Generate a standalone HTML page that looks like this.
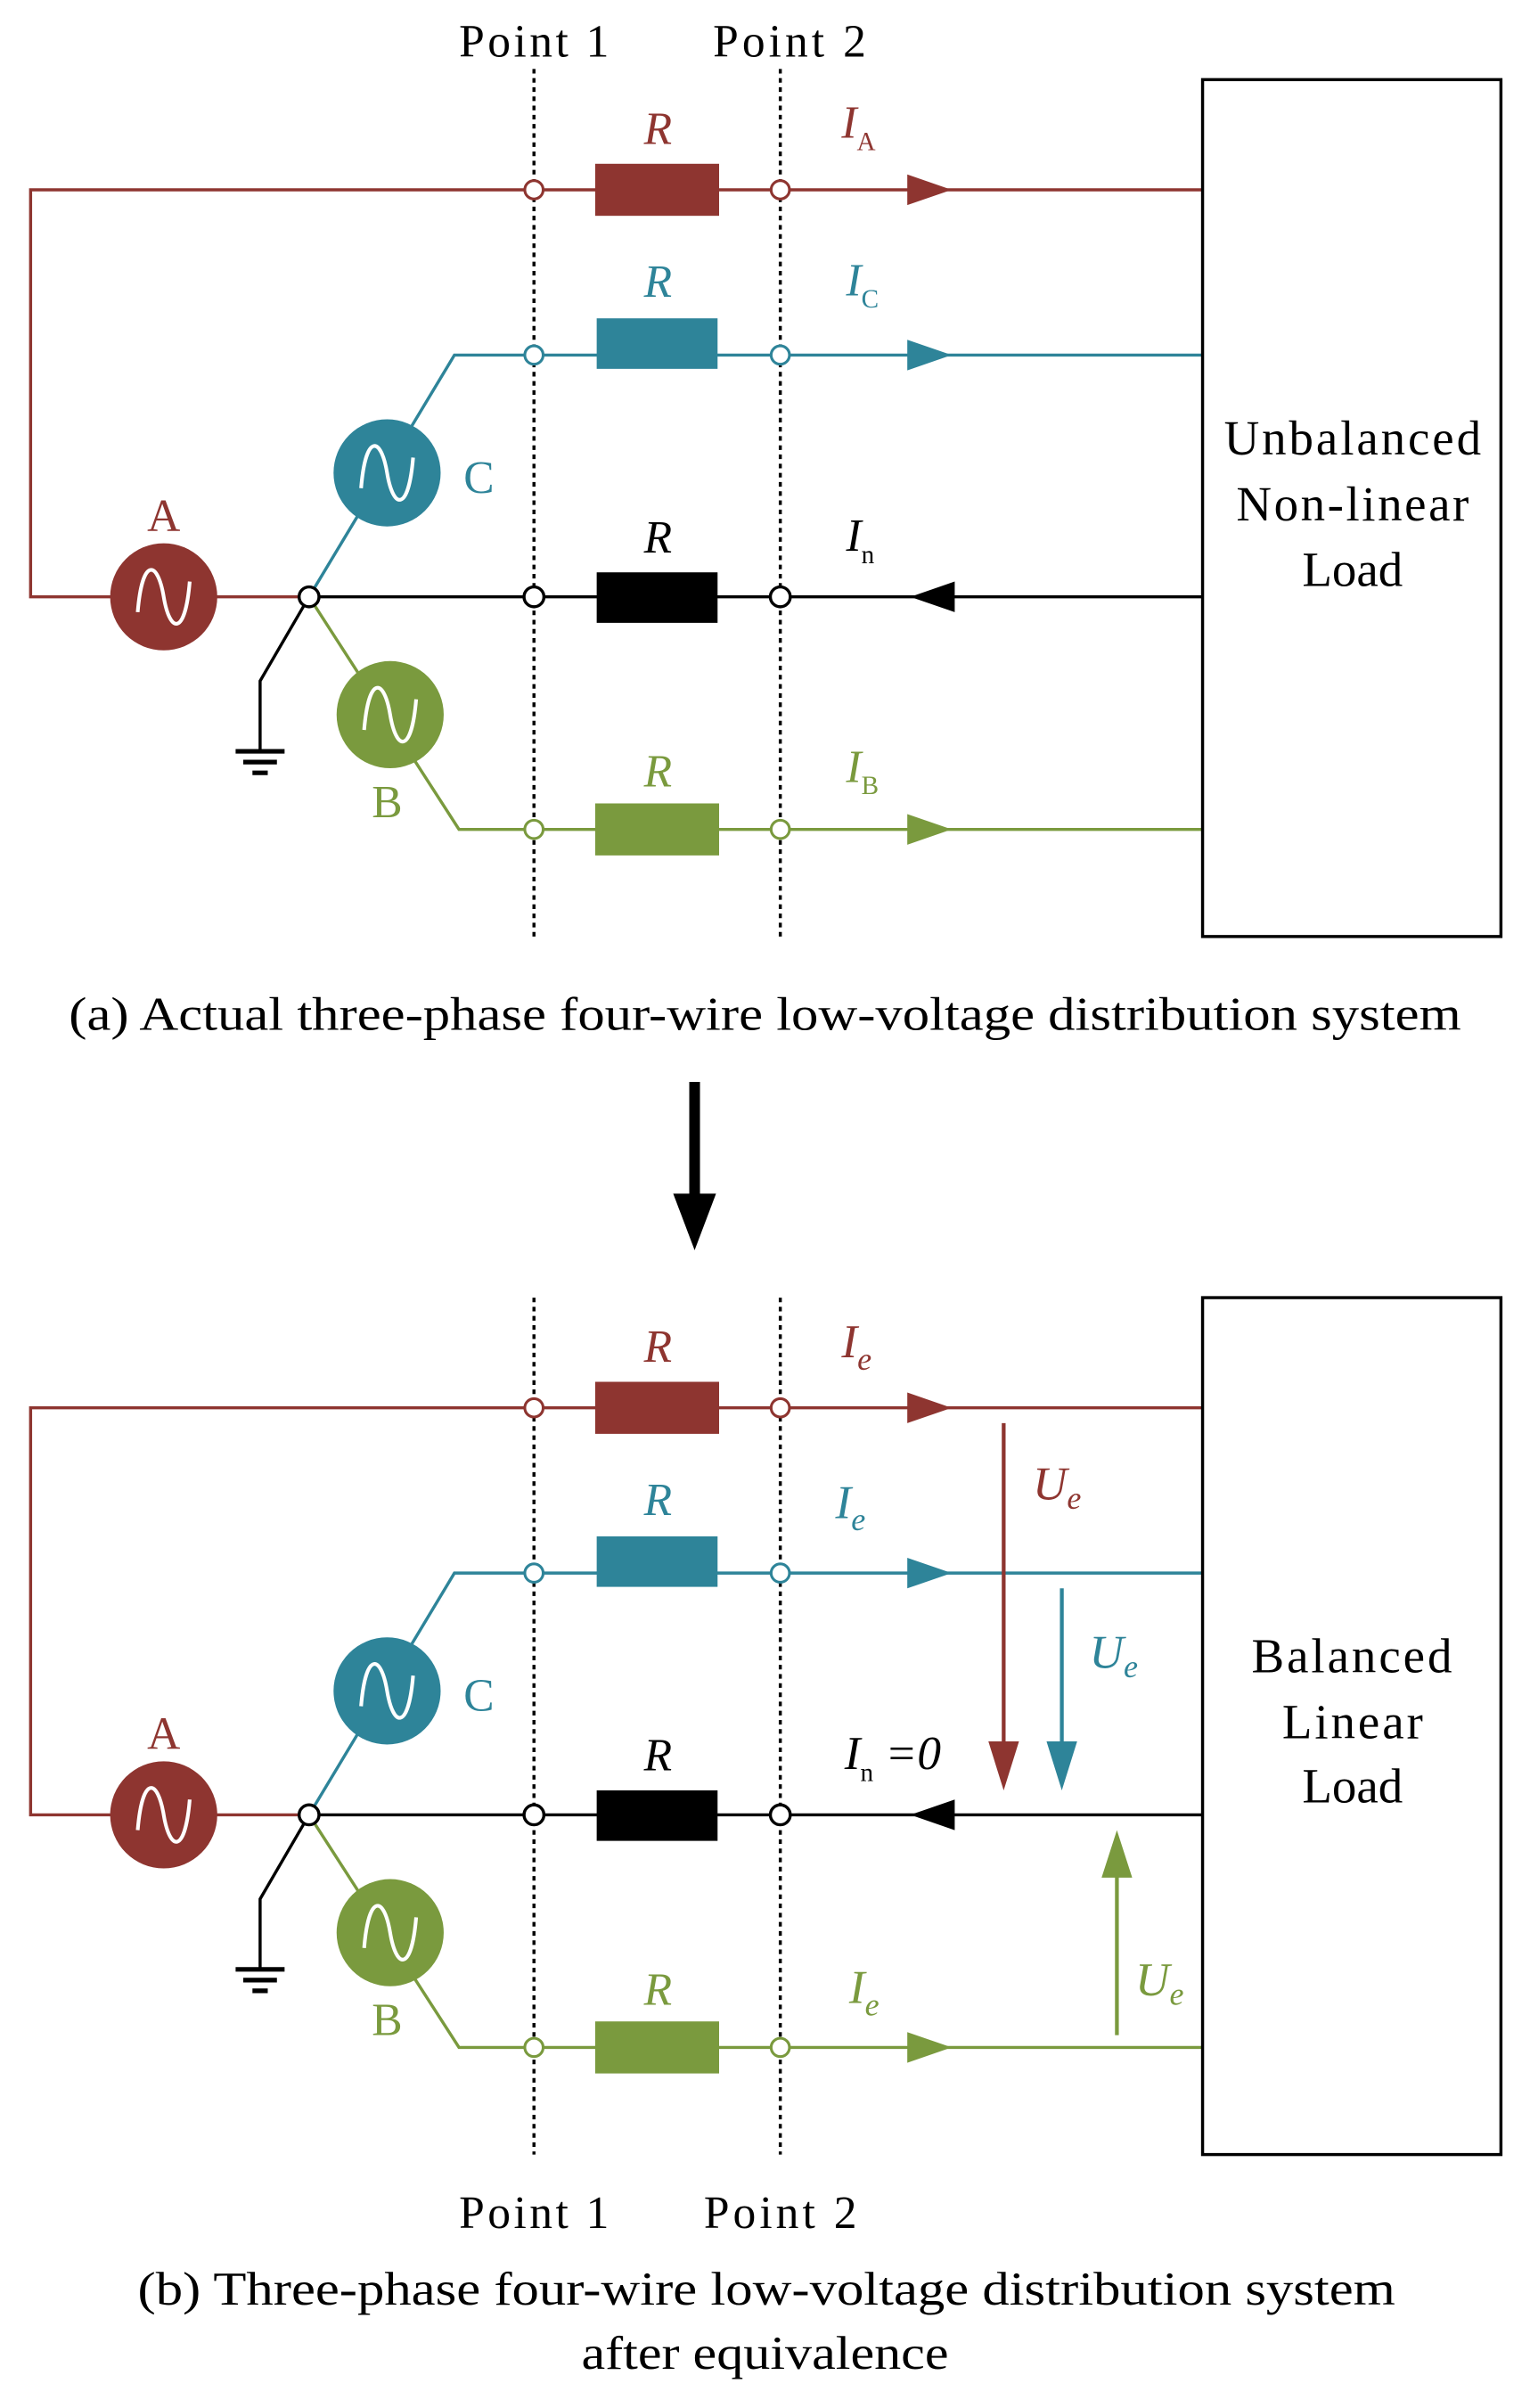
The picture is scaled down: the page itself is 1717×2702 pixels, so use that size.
<!DOCTYPE html>
<html><head><meta charset="utf-8"><style>html,body{margin:0;padding:0;background:#fff}svg{display:block}</style></head>
<body>
<svg width="1717" height="2702" viewBox="0 0 1000 1573.6" xmlns="http://www.w3.org/2000/svg" font-family="Liberation Serif, serif">
<defs>
<g id="sine"><path d="M-17,10 C-14,-26 -4,-24 0,0 C4,24 14,26 17,-10" fill="none" stroke="#fff" stroke-width="2.4"/></g>
<g id="circ">
<polyline points="786,124 20,124 20,390 202,390" fill="none" stroke="#8e3530" stroke-width="2"/>
<circle cx="107" cy="390" r="35" fill="#8e3530"/><use href="#sine" x="107" y="390"/>
<text x="107" y="347" font-size="30" fill="#8e3530" text-anchor="middle">A</text>
<polyline points="202,390 297,232 786,232" fill="none" stroke="#2e8499" stroke-width="2"/>
<circle cx="253" cy="309" r="35" fill="#2e8499"/><use href="#sine" x="253" y="309"/>
<text x="313" y="322" font-size="30" fill="#2e8499" text-anchor="middle">C</text>
<polyline points="202,390 300,542 786,542" fill="none" stroke="#7a9a3e" stroke-width="2"/>
<circle cx="255" cy="467" r="35" fill="#7a9a3e"/><use href="#sine" x="255" y="467"/>
<text x="253" y="534" font-size="30" fill="#7a9a3e" text-anchor="middle">B</text>
<line x1="202" y1="390" x2="786" y2="390" stroke="#000" stroke-width="2"/>
<polyline points="202,390 170,445 170,490" fill="none" stroke="#000" stroke-width="2"/>
<line x1="154" y1="491" x2="186" y2="491" stroke="#000" stroke-width="3"/>
<line x1="159" y1="498" x2="181" y2="498" stroke="#000" stroke-width="3"/>
<line x1="165" y1="505" x2="175" y2="505" stroke="#000" stroke-width="3"/>
<circle cx="202" cy="390" r="6.5" fill="#fff" stroke="#000" stroke-width="2"/>
<rect x="389" y="107" width="81" height="34" fill="#8e3530"/>
<rect x="390" y="208" width="79" height="33" fill="#2e8499"/>
<rect x="390" y="374" width="79" height="33" fill="#000"/>
<rect x="389" y="525" width="81" height="34" fill="#7a9a3e"/>
<g font-size="30" font-style="italic" text-anchor="middle">
<text x="430" y="94" fill="#8e3530">R</text>
<text x="430" y="194" fill="#2e8499">R</text>
<text x="430" y="361" fill="#000">R</text>
<text x="430" y="514" fill="#7a9a3e">R</text>
</g>
<polygon points="593,114 622,124 593,134" fill="#8e3530"/>
<polygon points="593,222 622,232 593,242" fill="#2e8499"/>
<polygon points="624,380 595,390 624,400" fill="#000"/>
<polygon points="593,532 622,542 593,552" fill="#7a9a3e"/>
<rect x="786" y="52" width="195" height="560" fill="none" stroke="#000" stroke-width="2"/>
<g fill="#fff" stroke-width="1.8">
<circle cx="349" cy="124" r="6" stroke="#8e3530"/><circle cx="510" cy="124" r="6" stroke="#8e3530"/>
<circle cx="349" cy="232" r="6" stroke="#2e8499"/><circle cx="510" cy="232" r="6" stroke="#2e8499"/>
<circle cx="349" cy="390" r="6.5" stroke="#000" stroke-width="2"/><circle cx="510" cy="390" r="6.5" stroke="#000" stroke-width="2"/>
<circle cx="349" cy="542" r="6" stroke="#7a9a3e"/><circle cx="510" cy="542" r="6" stroke="#7a9a3e"/>
</g>
</g>
</defs>
<line x1="349" y1="45" x2="349" y2="612" stroke="#000" stroke-width="2" stroke-dasharray="3,3"/>
<line x1="510" y1="45" x2="510" y2="612" stroke="#000" stroke-width="2" stroke-dasharray="3,3"/>
<use href="#circ"/>
<text x="300" y="37" font-size="30" textLength="98">Point 1</text>
<text x="466" y="37" font-size="30" textLength="100">Point 2</text>
<g font-size="30" font-style="italic">
<text x="550" y="90" fill="#8e3530">I<tspan font-size="17" font-style="normal" dy="8">A</tspan></text>
<text x="553" y="193" fill="#2e8499">I<tspan font-size="17" font-style="normal" dy="8">C</tspan></text>
<text x="553" y="360" fill="#000">I<tspan font-size="17" font-style="normal" dy="8">n</tspan></text>
<text x="553" y="511" fill="#7a9a3e">I<tspan font-size="17" font-style="normal" dy="8">B</tspan></text>
</g>
<g font-size="32">
<text x="800" y="297" textLength="168">Unbalanced</text><text x="808" y="340" textLength="152">Non-linear</text><text x="884" y="383" text-anchor="middle">Load</text>
</g>
<text x="45" y="673" font-size="31" textLength="910" lengthAdjust="spacingAndGlyphs">(a) Actual three-phase four-wire low-voltage distribution system</text>
<line x1="454" y1="707" x2="454" y2="782" stroke="#000" stroke-width="7"/>
<polygon points="440,780 468,780 454,817" fill="#000"/>
<line x1="349" y1="848" x2="349" y2="1408" stroke="#000" stroke-width="2" stroke-dasharray="3,3"/>
<line x1="510" y1="848" x2="510" y2="1408" stroke="#000" stroke-width="2" stroke-dasharray="3,3"/>
<g transform="translate(0,796)"><use href="#circ"/></g>
<g font-size="31" font-style="italic">
<text x="550" y="887" fill="#8e3530">I<tspan font-size="21" dy="8">e</tspan></text>
<text x="546" y="992" fill="#2e8499">I<tspan font-size="21" dy="8">e</tspan></text>
<text x="552" y="1156" fill="#000">I<tspan font-size="17" font-style="normal" dy="8">n</tspan><tspan dy="-8"> =0</tspan></text>
<text x="555" y="1309" fill="#7a9a3e">I<tspan font-size="21" dy="8">e</tspan></text>
<text x="675" y="980" fill="#8e3530">U<tspan font-size="21" dy="6">e</tspan></text>
<text x="712" y="1090" fill="#2e8499">U<tspan font-size="21" dy="6">e</tspan></text>
<text x="742" y="1304" fill="#7a9a3e">U<tspan font-size="21" dy="6">e</tspan></text>
</g>
<line x1="656" y1="930" x2="656" y2="1140" stroke="#8e3530" stroke-width="2.5"/>
<polygon points="646,1138 666,1138 656,1170" fill="#8e3530"/>
<line x1="694" y1="1038" x2="694" y2="1140" stroke="#2e8499" stroke-width="2.5"/>
<polygon points="684,1138 704,1138 694,1170" fill="#2e8499"/>
<line x1="730" y1="1330" x2="730" y2="1225" stroke="#7a9a3e" stroke-width="2.5"/>
<polygon points="720,1227 740,1227 730,1196" fill="#7a9a3e"/>
<g font-size="32">
<text x="818" y="1093" textLength="131">Balanced</text><text x="838" y="1136" textLength="92">Linear</text><text x="884" y="1178" text-anchor="middle">Load</text>
</g>
<text x="300" y="1456" font-size="30" textLength="98">Point 1</text>
<text x="460" y="1456" font-size="30" textLength="100">Point 2</text>
<text x="90" y="1506" font-size="31" textLength="822" lengthAdjust="spacingAndGlyphs">(b) Three-phase four-wire low-voltage distribution system</text>
<text x="380" y="1548" font-size="31" textLength="240" lengthAdjust="spacingAndGlyphs">after equivalence</text>
</svg>
</body></html>
